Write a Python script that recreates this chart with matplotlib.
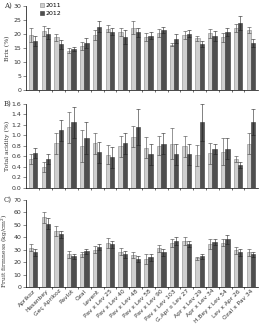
import matplotlib
matplotlib.use("Agg")
from matplotlib import pyplot as plt
import numpy as np

cultivars = ["Aprikoz", "Hasanbey", "Geç Aprikoz", "Pavlot", "Ozal", "Levent",
             "Pav x Lev 25", "Pav x Lev 40", "Pav x Lev 48", "Pav x Lev 58",
             "Pav x Lev 90", "Pav x Lev 103", "G.Apr x Lev 27", "Apr x Lev 29",
             "Apr x Lev 34", "H.Bey x Lev 54", "Lev x Apr 26", "Ozal x Pav 34"]

brix_2011 = [19.7, 21.0, 18.7, 14.0, 15.7, 19.7, 21.8, 20.5, 22.2, 18.8,
             20.3, 16.1, 19.6, 18.4, 20.2, 18.8, 21.9, 21.3]
brix_2012 = [17.5, 20.0, 16.2, 14.6, 16.8, 22.5, 20.7, 18.8, 20.5, 19.3,
             21.3, 18.2, 20.0, 16.4, 19.3, 20.7, 23.8, 16.7]
brix_err_2011 = [2.5, 1.8, 1.3, 1.0, 1.5, 1.8, 1.2, 1.4, 2.2, 1.5,
                 1.5, 0.6, 1.5, 0.8, 1.6, 1.6, 1.4, 1.2]
brix_err_2012 = [1.8, 2.0, 1.5, 0.8, 1.8, 2.0, 1.2, 2.5, 1.5, 1.2,
                 1.2, 1.6, 1.2, 1.2, 1.8, 1.5, 2.5, 1.4]

acid_2011 = [0.55, 0.40, 0.85, 1.15, 0.80, 0.85, 0.63, 0.79, 0.97, 0.76,
             0.80, 0.84, 0.79, 0.62, 0.66, 0.69, 0.55, 0.84]
acid_2012 = [0.66, 0.55, 1.10, 1.25, 0.95, 0.68, 0.58, 0.85, 1.16, 0.64,
             0.84, 0.64, 0.64, 1.25, 0.74, 0.74, 0.43, 1.25]
acid_err_2011 = [0.10, 0.10, 0.20, 0.30, 0.30, 0.20, 0.18, 0.20, 0.20, 0.20,
                 0.18, 0.30, 0.20, 0.20, 0.20, 0.25, 0.06, 0.20]
acid_err_2012 = [0.10, 0.10, 0.20, 0.30, 0.30, 0.20, 0.20, 0.20, 0.35, 0.20,
                 0.20, 0.20, 0.20, 0.35, 0.10, 0.20, 0.06, 0.25]

firm_2011 = [31.6, 56.0, 44.9, 26.2, 26.2, 30.0, 35.7, 28.4, 25.4, 22.7,
             31.1, 35.4, 36.8, 23.0, 34.3, 35.7, 29.5, 27.8]
firm_2012 = [27.8, 50.8, 42.4, 24.6, 28.9, 31.9, 34.3, 26.2, 22.4, 23.8,
             27.8, 36.8, 34.3, 24.6, 36.2, 38.4, 27.8, 26.2]
firm_err_2011 = [3.0, 4.5, 4.0, 3.0, 2.0, 3.0, 4.0, 3.0, 2.5, 4.0,
                 3.0, 3.5, 3.0, 1.5, 4.0, 3.0, 3.0, 3.0]
firm_err_2012 = [2.5, 4.5, 3.0, 2.0, 2.0, 2.5, 3.0, 2.5, 2.5, 3.0,
                 3.0, 3.0, 2.5, 2.0, 2.5, 3.5, 3.0, 2.0]

panels = [
    ("A)", "Brix (%)", brix_2011, brix_2012, brix_err_2011, brix_err_2012, 30, 5, "%d"),
    ("B)", "Total acidity (%)", acid_2011, acid_2012, acid_err_2011, acid_err_2012, 1.6, 0.2, "%.1f"),
    ("C)", "Fruit firmness (kg/cm$^2$)", firm_2011, firm_2012, firm_err_2011, firm_err_2012, 70, 10, "%d"),
]

fig = plt.figure(figsize=(2.6, 3.31), dpi=100)
rects = [[0.1, 0.728, 0.892, 0.255],
         [0.1, 0.433, 0.892, 0.253],
         [0.1, 0.133, 0.892, 0.263]]

xs = np.arange(len(cultivars))
w = 0.34
light = "#cfcfcf"
dark = "#4f4f4f"

for rect, (tag, ylabel, v11, v12, e11, e12, ymax, step, fmt) in zip(rects, panels):
    ax = fig.add_axes(rect)
    ax.bar(xs - w / 2, v11, w, color=light, edgecolor="#8a8a8a", linewidth=0.4, label="2011",
           yerr=e11, error_kw=dict(elinewidth=0.4, capsize=1.2, capthick=0.4, ecolor="#444444"))
    ax.bar(xs + w / 2, v12, w, color=dark, edgecolor="#3a3a3a", linewidth=0.4, label="2012",
           yerr=e12, error_kw=dict(elinewidth=0.4, capsize=1.2, capthick=0.4, ecolor="#222222"))
    ax.set_xlim(-0.55, len(cultivars) - 0.45)
    ax.set_ylim(0, ymax)
    ax.set_yticks(np.arange(0, ymax + step / 2, step))
    ax.set_yticklabels([fmt % t for t in np.arange(0, ymax + step / 2, step)])
    ax.spines["top"].set_visible(False)
    ax.spines["right"].set_visible(False)
    ax.spines["left"].set_linewidth(0.5)
    ax.spines["bottom"].set_linewidth(0.5)
    ax.tick_params(axis="y", labelsize=4.5, length=2, width=0.4, pad=1.5, colors="#333333")
    ax.set_xticks(xs)
    ax.set_xticks(xs[:-1] + 0.5, minor=True)
    ax.tick_params(axis="x", which="major", length=0)
    ax.tick_params(axis="x", which="minor", length=1.5, width=0.4)
    if tag == "C)":
        ax.set_xticklabels(cultivars, rotation=45, ha="right", rotation_mode="anchor",
                           fontsize=4.3, color="#333333")
        ax.tick_params(axis="x", which="major", pad=1)
    else:
        ax.set_xticklabels([])
    ax.set_ylabel(ylabel, family="serif", fontsize=4.4, color="#333333")
    ax.yaxis.set_label_coords(-0.068, 0.5 if tag != "C)" else 0.42)
    ax.text(-0.095, 1.0, tag, transform=ax.transAxes, family="serif", fontsize=5,
            ha="left", va="center", color="#333333")
    if tag == "A)":
        ax.legend(loc="upper left", bbox_to_anchor=(0.05, 1.06), frameon=False,
                  fontsize=4.5, handlelength=0.6, handleheight=0.6,
                  handletextpad=0.2, labelspacing=0.4, borderaxespad=0)

fig.savefig("out.png", dpi=100)
